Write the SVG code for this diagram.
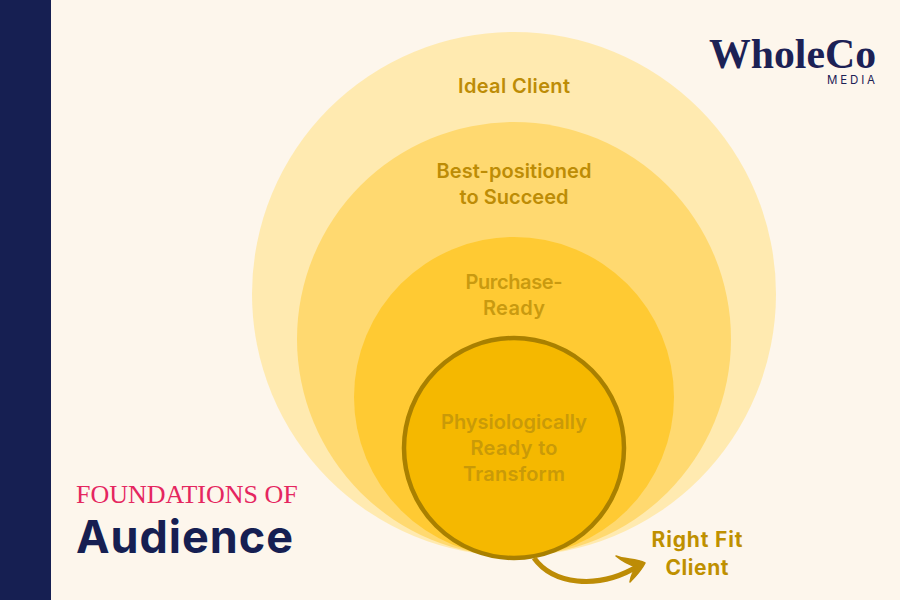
<svg xmlns="http://www.w3.org/2000/svg" width="900" height="600" viewBox="0 0 900 600">
<style>
.lab{font-family:"Inter","Noto Sans",sans-serif;font-weight:600;font-size:20px;text-anchor:middle}
.g1{fill:#bd8c06}
.g2{fill:#bf9000;font-weight:700;font-size:21px}
</style>
<rect width="900" height="600" fill="#fdf6ec"/>
<rect id="sidebar" width="51" height="600" fill="#161f52"/>
<g id="circle-ideal"><circle cx="514" cy="294" r="262" fill="#ffeab0"/><text class="lab g1" x="514" y="93" textLength="112">Ideal Client</text></g>
<g id="circle-best"><circle cx="514" cy="339" r="217" fill="#ffd970"/><text class="lab g1" x="514" y="178" textLength="155">Best-positioned</text><text class="lab g1" x="514" y="204" textLength="109">to Succeed</text></g>
<g id="circle-purchase"><circle cx="514" cy="397" r="160" fill="#ffca33"/><text class="lab" fill="#c99a10" x="514" y="289" textLength="97">Purchase-</text><text class="lab" fill="#c99a10" x="514" y="315" textLength="62">Ready</text></g>
<g id="circle-physio"><circle cx="514" cy="448" r="110" fill="#f5b800" stroke="#a98000" stroke-width="4.5"/><text class="lab" fill="#c99a08" x="514" y="429" textLength="146">Physiologically</text><text class="lab" fill="#c99a08" x="514" y="455" textLength="87">Ready to</text><text class="lab" fill="#c99a08" x="514" y="481" textLength="102">Transform</text></g>
<g id="connectors"><path d="M534 558C552 583 596 592 640 565" fill="none" stroke="#bd8c06" stroke-width="5"/><path d="M616 556C625 560 636 558 645 563C641 571 635 577 630 582C631 575 634 570 637 567C629 565 622 561 616 556Z" fill="#bd8c06" stroke="#bd8c06" stroke-width="1.5" stroke-linejoin="round"/></g>
<g id="right-fit"><text class="lab g2" x="697" y="547" textLength="91">Right Fit</text><text class="lab g2" x="697" y="575" textLength="63">Client</text></g>
<g id="title"><text x="76" y="503" font-family="'Liberation Serif',serif" font-size="26" fill="#e5265f">FOUNDATIONS OF</text><text x="76" y="553" font-family="Inter,'Noto Sans',sans-serif" font-weight="700" font-size="45" textLength="217" fill="#161f52">Audience</text></g>
<g id="logo"><text x="709" y="68" font-family="'Liberation Serif',serif" font-weight="700" font-size="43" textLength="167" lengthAdjust="spacingAndGlyphs" fill="#1c2155">WholeCo</text><text x="827" y="84" font-family="Inter,sans-serif" font-size="11.5" textLength="48" fill="#1c2155">MEDIA</text></g>
</svg>
